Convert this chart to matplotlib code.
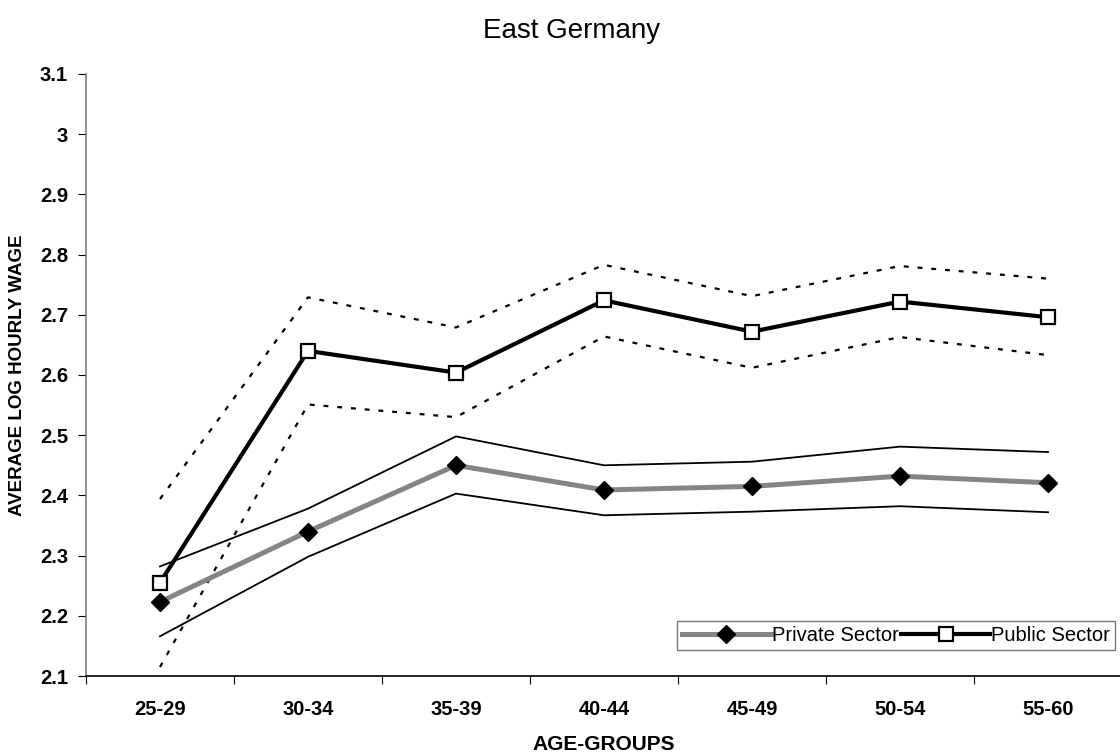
import matplotlib
matplotlib.use("Agg")
import matplotlib.pyplot as plt
from matplotlib.ticker import FixedLocator, NullFormatter

plt.rcParams['font.family'] = ['Liberation Sans', 'DejaVu Sans']

age_groups = ["25-29", "30-34", "35-39", "40-44", "45-49", "50-54", "55-60"]
private_mean = [2.223, 2.340, 2.450, 2.409, 2.415, 2.432, 2.421]
private_upper = [2.282, 2.378, 2.498, 2.450, 2.456, 2.481, 2.472]
private_lower = [2.166, 2.298, 2.403, 2.367, 2.373, 2.382, 2.372]
public_mean = [2.255, 2.640, 2.604, 2.724, 2.672, 2.722, 2.696]
public_upper = [2.394, 2.729, 2.679, 2.783, 2.731, 2.781, 2.760]
public_lower = [2.115, 2.551, 2.530, 2.664, 2.612, 2.663, 2.633]
y_ticks = [2.1, 2.2, 2.3, 2.4, 2.5, 2.6, 2.7, 2.8, 2.9, 3.0, 3.1]
y_tick_labels = ["2.1", "2.2", "2.3", "2.4", "2.5", "2.6", "2.7", "2.8", "2.9", "3", "3.1"]

W, H = 1120, 755
fig = plt.figure(figsize=(W / 100, H / 100), dpi=100)
ax = fig.add_axes([86 / W, (H - 676) / H, (1122 - 86) / W, (676 - 74) / H])

x = list(range(len(age_groups)))

dots = (0, (2.2, 4.0))
ax.plot(x, public_upper, color='black', lw=1.6, linestyle=dots)
ax.plot(x, public_lower, color='black', lw=1.6, linestyle=dots)
ax.plot(x, private_upper, color='black', lw=1.3)
ax.plot(x, private_lower, color='black', lw=1.3)
ax.plot(x, private_mean, color='#858585', lw=3.6, marker='D', markersize=9.5,
        markerfacecolor='black', markeredgecolor='black', label='Private Sector', zorder=3)
ax.plot(x, public_mean, color='black', lw=3.0, marker='s', markersize=9.5,
        markerfacecolor='white', markeredgecolor='black', markeredgewidth=1.6,
        label='Public Sector', zorder=4)

ax.set_xlim(-0.5, len(age_groups) - 0.5)
ax.set_ylim(2.1, 3.1)
ax.set_yticks(y_ticks)
ax.set_yticklabels(y_tick_labels, fontsize=14.5, fontweight='bold')

boundaries = [i - 0.5 for i in range(len(age_groups) + 1)]
ax.xaxis.set_major_locator(FixedLocator(boundaries))
ax.xaxis.set_major_formatter(NullFormatter())
ax.set_xticks(x, minor=True)
ax.set_xticklabels(age_groups, minor=True, fontsize=14.5, fontweight='bold')
ax.tick_params(axis='x', which='minor', length=0, pad=17)
ax.tick_params(axis='x', which='major', length=6, direction='out', color='black')
ax.tick_params(axis='y', length=6, direction='out', color='black', pad=7)

for s in ['top', 'right']:
    ax.spines[s].set_visible(False)
ax.spines['left'].set_color('#808080')
ax.spines['left'].set_linewidth(1.2)
ax.spines['bottom'].set_color('black')
ax.spines['bottom'].set_linewidth(1.2)

fig.text(604 / W, 1 - 744 / H, 'AGE-GROUPS', fontsize=15, fontweight='bold',
         ha='center', va='center')
fig.text(18 / W, 1 - 375 / H, 'AVERAGE LOG HOURLY WAGE', fontsize=13.5, fontweight='bold',
         ha='center', va='center', rotation=90)
fig.text(572 / W, 1 - 31 / H, 'East Germany', fontsize=20, ha='center', va='center')

leg = ax.legend(loc='lower right', ncol=2, fontsize=14.5, frameon=True, fancybox=False,
                bbox_to_anchor=(1115 / W, (H - 650) / H), bbox_transform=fig.transFigure,
                handlelength=4.4, handletextpad=0.05, columnspacing=0.15,
                borderpad=0.25, borderaxespad=0)
leg.get_frame().set_edgecolor('#555555')
leg.get_frame().set_linewidth(1.0)

fig.savefig('out.png', dpi=100)
